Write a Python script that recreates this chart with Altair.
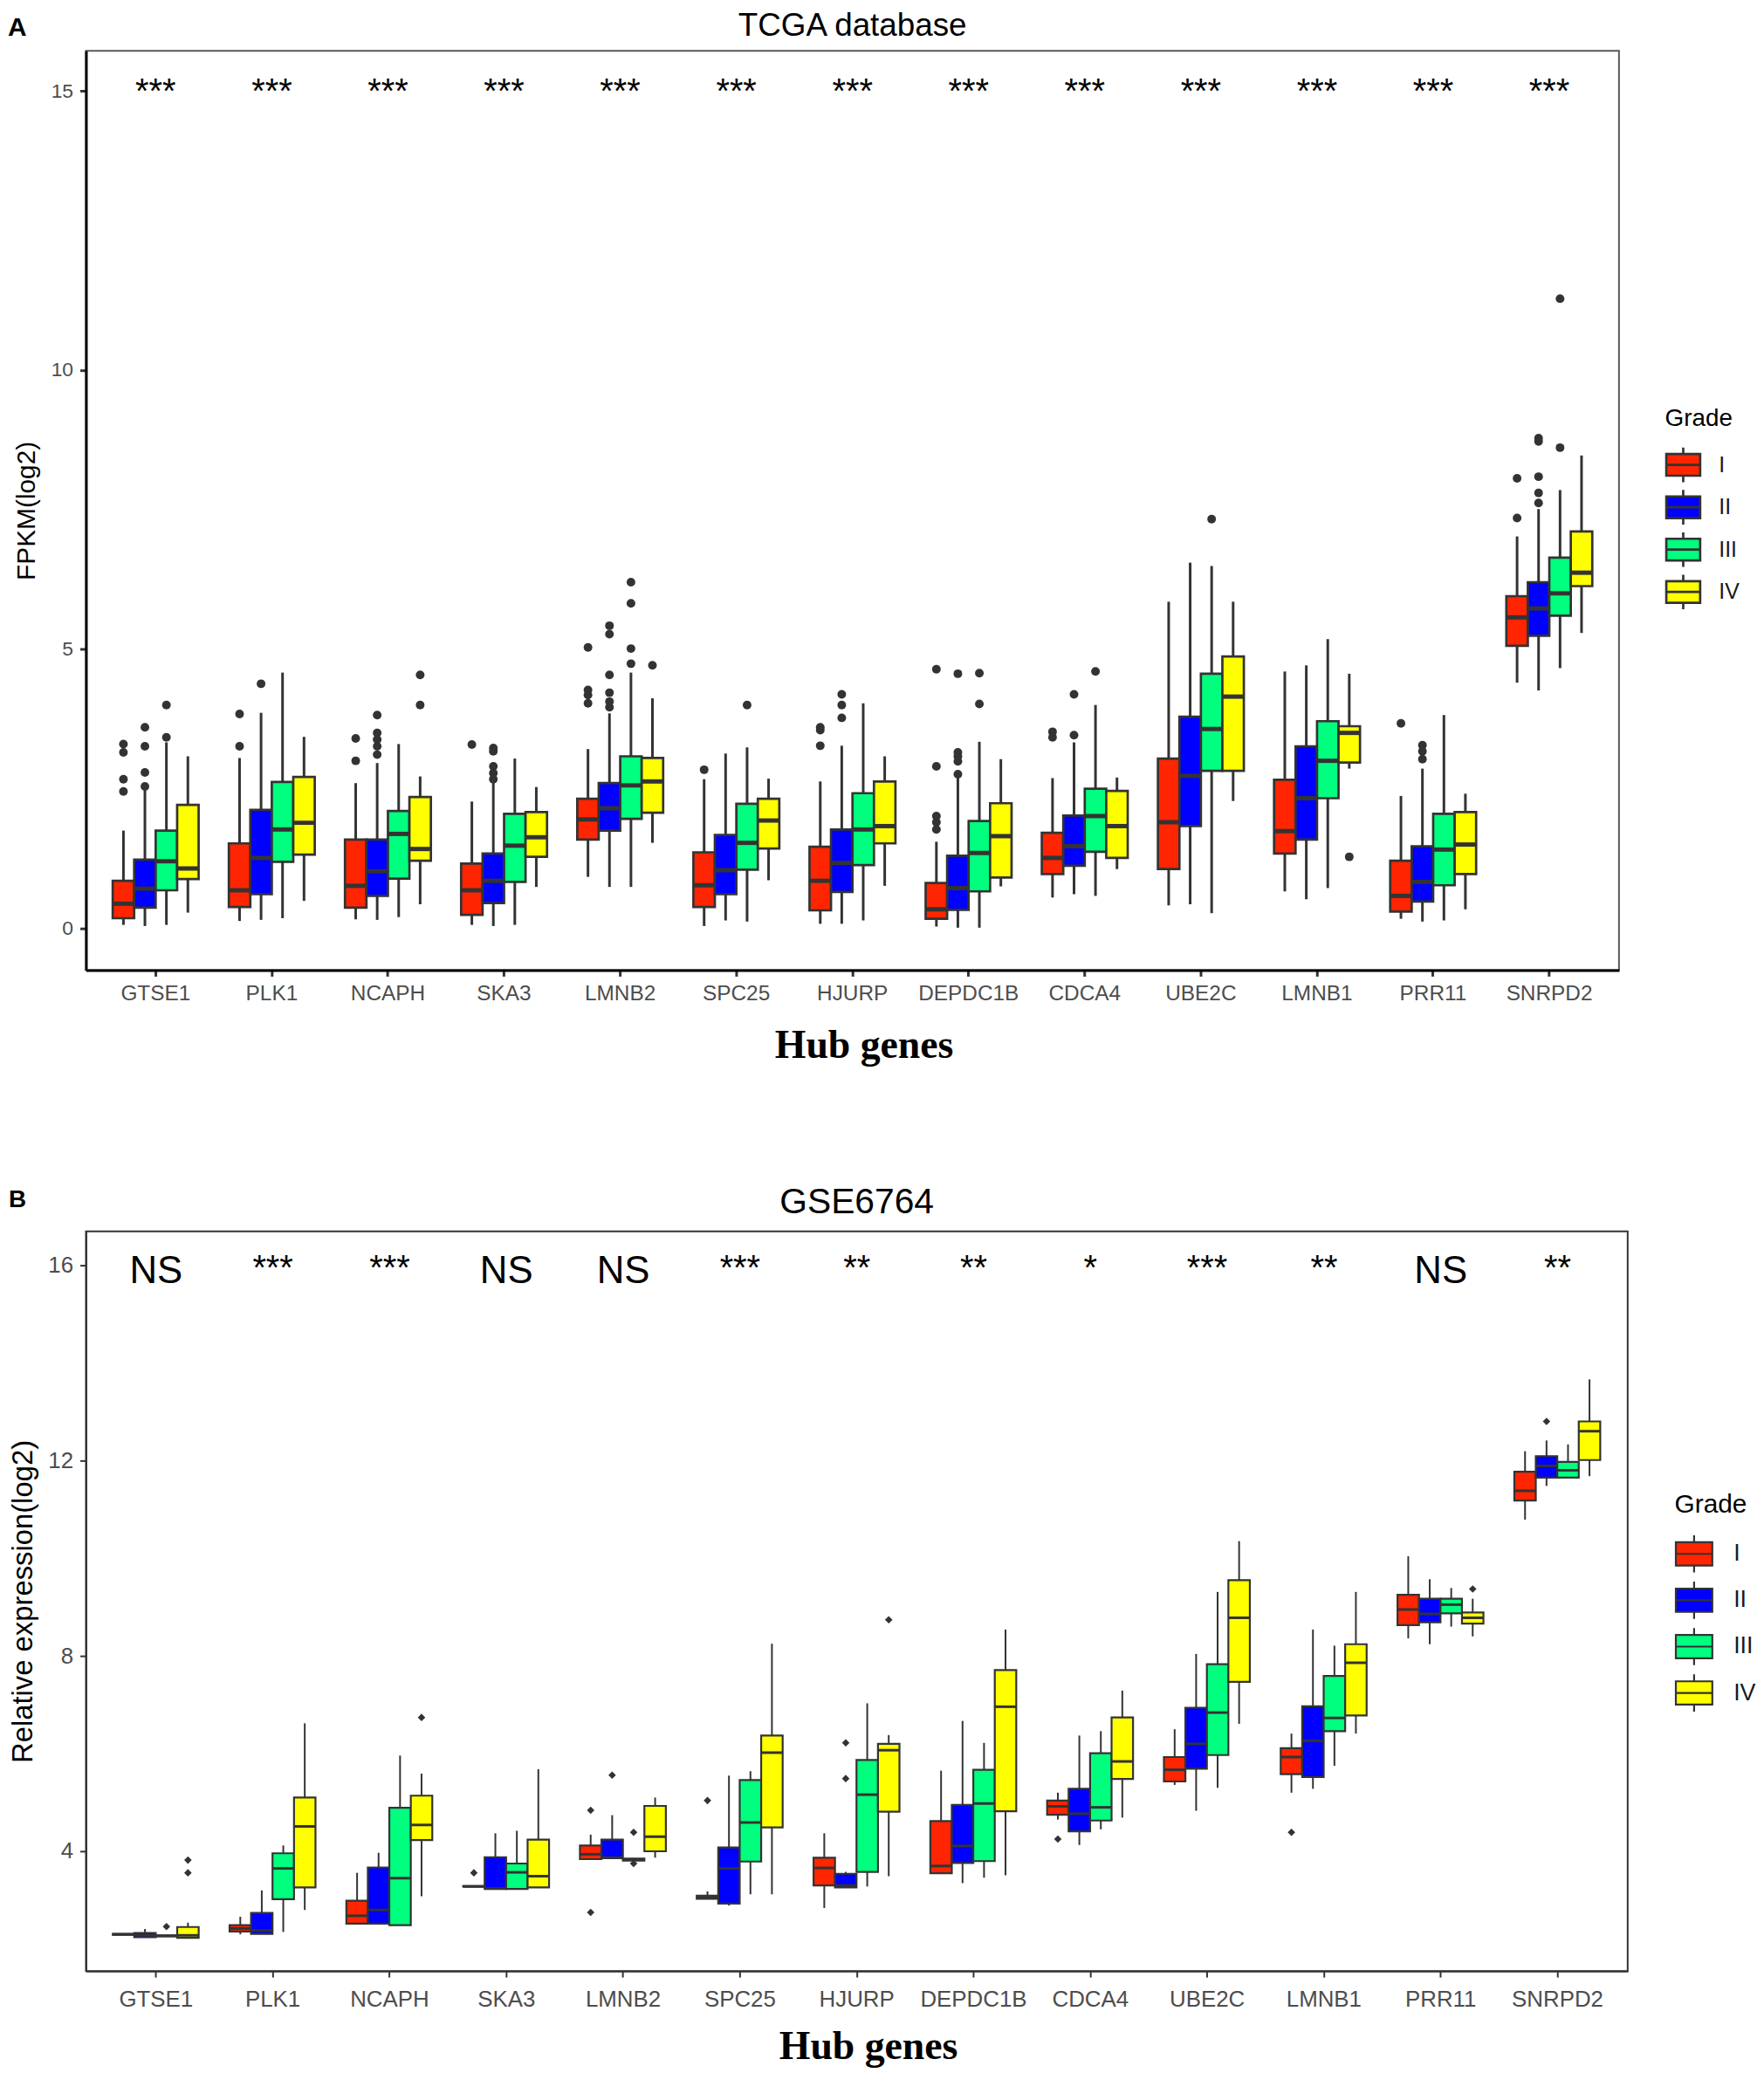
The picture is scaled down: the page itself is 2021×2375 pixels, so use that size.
import altair as alt
import pandas as pd

# ---------------- data ----------------
GENES = ["GTSE1", "PLK1", "NCAPH", "SKA3", "LMNB2", "SPC25", "HJURP",
         "DEPDC1B", "CDCA4", "UBE2C", "LMNB1", "PRR11", "SNRPD2"]
GRADES = ["I", "II", "III", "IV"]
GRADE_COLORS = ["#FF2500", "#0000FF", "#00FF7F", "#FFFF00"]

# Panel A (TCGA database) - per gene, values for grades I, II, III, IV
A_LO = [[0.06, 0.04, 0.06, 0.28], [0.13, 0.15, 0.18, 0.49], [0.16, 0.15, 0.20, 0.43],
        [0.06, 0.04, 0.06, 0.74], [0.92, 0.74, 0.74, 1.53], [0.04, 0.14, 0.12, 0.86],
        [0.08, 0.08, 0.14, 0.76], [0.03, 0.01, 0.01, 0.75], [0.55, 0.61, 0.58, 1.06],
        [0.41, 0.43, 0.27, 2.28], [0.66, 0.52, 0.72, 2.86], [0.17, 0.12, 0.14, 0.34],
        [4.40, 4.26, 4.66, 5.29]]
A_Q1 = [[0.18, 0.37, 0.68, 0.88], [0.38, 0.61, 1.19, 1.32], [0.37, 0.58, 0.89, 1.21],
        [0.24, 0.45, 0.83, 1.28], [1.59, 1.75, 1.96, 2.07], [0.38, 0.61, 1.05, 1.43],
        [0.32, 0.65, 1.13, 1.52], [0.17, 0.33, 0.66, 0.91], [0.97, 1.12, 1.37, 1.26],
        [1.06, 1.83, 2.82, 2.82], [1.34, 1.59, 2.33, 2.97], [0.30, 0.48, 0.77, 0.97],
        [5.06, 5.24, 5.60, 6.13]]
A_MED = [[0.44, 0.71, 1.20, 1.07], [0.68, 1.26, 1.77, 1.89], [0.76, 1.02, 1.69, 1.42],
         [0.68, 0.85, 1.48, 1.63], [1.95, 2.15, 2.56, 2.63], [0.77, 1.04, 1.53, 1.93],
         [0.85, 1.17, 1.77, 1.83], [0.34, 0.72, 1.35, 1.65], [1.26, 1.47, 2.01, 1.83],
         [1.90, 2.73, 3.57, 4.15], [1.74, 2.33, 3.00, 3.50], [0.58, 0.83, 1.41, 1.50],
         [5.57, 5.73, 6.00, 6.37]]
A_Q3 = [[0.85, 1.23, 1.75, 2.21], [1.52, 2.12, 2.62, 2.71], [1.59, 1.59, 2.10, 2.35],
        [1.16, 1.34, 2.05, 2.08], [2.32, 2.60, 3.08, 3.05], [1.36, 1.67, 2.23, 2.32],
        [1.46, 1.77, 2.42, 2.63], [0.81, 1.30, 1.92, 2.24], [1.71, 2.02, 2.50, 2.46],
        [3.04, 3.79, 4.56, 4.87], [2.66, 3.26, 3.71, 3.62], [1.21, 1.47, 2.05, 2.08],
        [5.95, 6.20, 6.64, 7.11]]
A_HI = [[1.75, 2.48, 3.33, 3.08], [3.05, 3.86, 4.58, 3.43], [2.60, 2.96, 3.30, 2.72],
        [2.27, 2.62, 3.04, 2.53], [3.21, 3.85, 4.58, 4.12], [2.67, 3.13, 3.24, 2.68],
        [2.63, 3.27, 4.03, 3.08], [1.55, 2.70, 3.34, 3.03], [2.69, 3.33, 4.00, 2.70],
        [5.85, 6.55, 6.49, 5.85], [4.60, 4.71, 5.18, 4.56], [2.37, 2.86, 3.82, 2.41],
        [7.02, 7.51, 7.85, 8.47]]
A_OUTLIERS = [
    ("GTSE1", "I", [3.30, 3.15, 2.67, 2.45]), ("GTSE1", "II", [3.60, 3.26, 2.79, 2.54]),
    ("GTSE1", "III", [4.00, 3.42]),
    ("PLK1", "I", [3.84, 3.26]), ("PLK1", "II", [4.38]),
    ("NCAPH", "I", [3.40, 3.00]), ("NCAPH", "II", [3.82, 3.50, 3.38, 3.26, 3.11]),
    ("NCAPH", "IV", [4.54, 4.00]),
    ("SKA3", "I", [3.29]), ("SKA3", "II", [3.23, 3.17, 2.90, 2.78, 2.67]),
    ("LMNB2", "I", [5.03, 4.27, 4.18, 4.03]), ("LMNB2", "II", [5.42, 5.27, 4.54, 4.22, 4.06, 3.96]),
    ("LMNB2", "III", [6.20, 5.82, 5.01, 4.74]), ("LMNB2", "IV", [4.71]),
    ("SPC25", "I", [2.84]), ("SPC25", "III", [4.00]),
    ("HJURP", "I", [3.60, 3.55, 3.27]), ("HJURP", "II", [4.19, 4.00, 3.77]),
    ("DEPDC1B", "I", [4.64, 2.90, 2.01, 1.90, 1.77]), ("DEPDC1B", "II", [4.56, 3.15, 3.08, 2.99, 2.76]),
    ("DEPDC1B", "III", [4.57, 4.02]),
    ("CDCA4", "I", [3.52, 3.42]), ("CDCA4", "II", [4.19, 3.46]), ("CDCA4", "III", [4.60]),
    ("UBE2C", "III", [7.33]),
    ("LMNB1", "IV", [1.28]),
    ("PRR11", "I", [3.67]), ("PRR11", "II", [3.28, 3.17, 3.03]),
    ("SNRPD2", "I", [8.06, 7.35]), ("SNRPD2", "II", [8.78, 8.72, 8.09, 7.80, 7.62]),
    ("SNRPD2", "III", [11.28, 8.61]),
]
A_SIG = ["***", "***", "***", "***", "***", "***", "***",
         "***", "***", "***", "***", "***", "***"]

# Panel B (GSE6764)
B_LO = [[2.30, 2.24, 2.27, 2.23], [2.30, 2.31, 2.35, 2.80], [2.52, 2.52, 2.49, 3.08],
        [3.28, 3.23, 3.23, 3.26], [3.84, 3.86, 3.80, 3.87], [3.03, 2.89, 3.12, 3.12],
        [2.84, 3.26, 3.28, 3.49], [3.54, 3.35, 3.46, 3.51], [4.65, 4.13, 4.45, 4.69],
        [5.36, 4.83, 5.30, 6.61], [5.20, 5.28, 5.75, 6.41], [8.36, 8.24, 8.60, 8.40],
        [10.79, 11.48, 11.65, 11.68]]
B_Q1 = [[2.29, 2.24, 2.26, 2.23], [2.36, 2.31, 3.02, 3.26], [2.52, 2.52, 2.49, 4.23],
        [3.28, 3.23, 3.23, 3.26], [3.84, 3.86, 3.81, 4.00], [3.03, 2.93, 3.79, 4.49],
        [3.30, 3.26, 3.58, 4.81], [3.55, 3.76, 3.80, 4.82], [4.75, 4.41, 4.63, 5.48],
        [5.43, 5.69, 5.97, 7.47], [5.58, 5.52, 6.46, 6.78], [8.63, 8.69, 8.87, 8.66],
        [11.18, 11.65, 11.65, 12.01]]
B_MED = [[2.30, 2.28, 2.27, 2.28], [2.42, 2.38, 3.65, 4.51], [2.68, 2.80, 3.45, 4.54],
         [3.28, 3.24, 3.57, 3.49], [3.94, 3.87, 3.83, 4.30], [3.06, 3.65, 4.59, 6.02],
         [3.66, 3.30, 5.16, 6.07], [3.70, 4.11, 4.98, 6.96], [4.92, 4.77, 4.90, 5.84],
         [5.67, 6.20, 6.84, 8.78], [5.93, 6.26, 6.73, 7.86], [8.95, 8.86, 9.05, 8.78],
         [11.38, 11.89, 11.80, 12.60]]
B_Q3 = [[2.31, 2.33, 2.28, 2.45], [2.49, 2.74, 3.96, 5.10], [2.99, 3.67, 4.89, 5.14],
        [3.29, 3.88, 3.75, 4.24], [4.12, 4.24, 3.85, 4.93], [3.09, 4.08, 5.46, 6.37],
        [3.87, 3.54, 5.87, 6.20], [4.62, 4.95, 5.67, 7.71], [5.04, 5.28, 6.01, 6.74],
        [5.93, 6.94, 7.83, 9.55], [6.11, 6.97, 7.59, 8.24], [9.25, 9.17, 9.17, 8.89],
        [11.77, 12.09, 11.97, 12.80]]
B_HI = [[2.31, 2.41, 2.28, 2.54], [2.66, 3.20, 4.12, 6.62], [3.56, 3.97, 5.96, 5.59],
        [3.29, 4.37, 4.42, 5.68], [4.34, 4.74, 3.86, 5.10], [3.18, 5.55, 5.64, 8.25],
        [4.37, 3.58, 7.03, 6.38], [5.65, 6.67, 6.22, 8.54], [5.20, 6.37, 6.46, 7.29],
        [6.50, 8.04, 9.31, 10.35], [6.41, 8.54, 8.21, 9.31], [10.04, 9.57, 9.39, 9.17],
        [12.19, 12.41, 12.33, 13.66]]
B_OUTLIERS = [
    ("GTSE1", "III", [2.46]), ("GTSE1", "IV", [3.82, 3.56]),
    ("NCAPH", "IV", [6.74]),
    ("SKA3", "I", [3.56]),
    ("LMNB2", "I", [4.84, 2.75]), ("LMNB2", "II", [5.56]), ("LMNB2", "III", [4.39, 3.75]),
    ("SPC25", "I", [5.04]),
    ("HJURP", "II", [6.22, 5.49]), ("HJURP", "IV", [8.74]),
    ("CDCA4", "I", [4.25]),
    ("LMNB1", "I", [4.39]),
    ("PRR11", "IV", [9.37]),
    ("SNRPD2", "II", [12.80]),
]
B_SIG = ["NS", "***", "***", "NS", "NS", "***", "**",
         "**", "*", "***", "**", "NS", "**"]

# ---------------- styling ----------------
SANS = "Liberation Sans"
SERIF = "Liberation Serif"
KEY_PATH = "M-1,-0.64H1V0.64H-1Z M-1,0H1 M0,-0.64V-1.02 M0,0.64V1.02"


def box_frame(lo, q1, med, q3, hi):
    rows = []
    for i, g in enumerate(GENES):
        for j, r in enumerate(GRADES):
            rows.append(dict(gene=g, grade=r, lo=lo[i][j], q1=q1[i][j],
                             med=med[i][j], q3=q3[i][j], hi=hi[i][j]))
    return pd.DataFrame(rows)


def outlier_frame(outliers):
    return pd.DataFrame([dict(gene=g, grade=r, v=v) for g, r, vals in outliers for v in vals])


def panel(lo, q1, med, q3, hi, outliers, sig, c):
    box = box_frame(lo, q1, med, q3, hi)
    out = outlier_frame(outliers)
    sigdf = pd.DataFrame(dict(gene=GENES, sig=sig))
    sigdf["fs"] = [c["ns_fs"] if s == "NS" else c["star_fs"] for s in sig]
    sigdf["sy"] = [c["ns_y"] if s == "NS" else c["star_y"] for s in sig]

    W, H = c["W"], c["H"]
    xaxis = alt.Axis(title="Hub genes", labelAngle=0, labelFont=SANS,
                     labelFontSize=c["xlab_fs"], labelColor="#4D4D4D",
                     labelPadding=c["xlab_pad"], tickSize=7, tickWidth=c["tick_w"],
                     tickColor="#333333", domainColor=c["dom_col"], domainWidth=c["dom_w"],
                     titleFont=SERIF, titleFontWeight="bold", titleFontSize=46,
                     titleColor="black", titleBaseline="middle",
                     titleX=W / 2 + 13, titleY=c["xtitle_y"], grid=False)
    yaxis = alt.Axis(title=c["ytitle"], values=c["yticks"], labelFont=SANS,
                     labelFontSize=c["lab_fs"], labelColor="#4D4D4D", labelPadding=8,
                     tickSize=7, tickWidth=c["tick_w"], tickColor="#333333",
                     domainColor=c["dom_col"], domainWidth=c["dom_w"],
                     titleFont=SANS, titleFontWeight="normal", titleFontSize=c["ytitle_fs"],
                     titleColor="black", titleBaseline="middle", titleAngle=270,
                     titleX=c["ytitle_x"], titleY=H / 2, grid=False)
    xs = alt.Scale(domain=GENES, paddingInner=0, paddingOuter=0.1)
    ys = alt.Scale(domain=c["ydom"], nice=False, zero=False)
    X = alt.X("gene:N", scale=xs, axis=xaxis, title="Hub genes")
    XO = alt.XOffset("grade:N", scale=alt.Scale(domain=GRADES, paddingInner=0, paddingOuter=0.703))

    def Y(f):
        return alt.Y(f, type="quantitative", scale=ys, axis=yaxis, title=c["ytitle"])

    legend = alt.Legend(orient="none", legendX=c["leg_x"], legendY=c["leg_y"], title="Grade",
                        titleFont=SANS, titleFontSize=c["leg_tfs"], titleFontWeight="normal",
                        titleColor="black", titlePadding=c["leg_tpad"], labelFont=SANS,
                        labelFontSize=c["leg_lfs"], labelColor="#1A1A1A",
                        labelOffset=c["leg_loff"], symbolType=KEY_PATH,
                        symbolSize=c["leg_sym"] ** 2, symbolStrokeColor="#333333",
                        symbolStrokeWidth=c["box_sw"], symbolOpacity=1,
                        rowPadding=c["leg_rpad"], padding=0, symbolOffset=0)

    whisk_lo = alt.Chart(box).mark_rule(color="#333333", strokeWidth=c["wh_w"]).encode(
        x=X, xOffset=XO, y=Y("lo"), y2="q1")
    whisk_hi = alt.Chart(box).mark_rule(color="#333333", strokeWidth=c["wh_w"]).encode(
        x=X, xOffset=XO, y=Y("q3"), y2="hi")
    boxes = alt.Chart(box).mark_bar(stroke="#333333", strokeWidth=c["box_sw"], opacity=1).encode(
        x=X, xOffset=XO, y=Y("q1"), y2="q3",
        color=alt.Color("grade:N", scale=alt.Scale(domain=GRADES, range=GRADE_COLORS),
                        legend=legend))
    medians = alt.Chart(box).mark_tick(color="#333333", thickness=c["med_w"],
                                       size=c["box_w"], opacity=1).encode(
        x=X, xOffset=XO, y=Y("med"))
    pts = alt.Chart(out).mark_point(filled=True, shape=c["pt_shape"], size=c["pt_size"],
                                    color="#333333", opacity=1).encode(
        x=X, xOffset=XO, y=Y("v"))
    sigs = alt.Chart(sigdf).mark_text(font=SANS, color="black", baseline="alphabetic",
                                      align="center").encode(
        x=X, y=Y("sy"), text="sig:N", size=alt.Size("fs:Q", scale=None, legend=None))
    head = pd.DataFrame(dict(t=[c["title"]]))
    title = alt.Chart(head).mark_text(font=SANS, fontSize=c["title_fs"], color="black",
                                      baseline="alphabetic", align="center").encode(
        x=alt.value(W / 2), y=alt.value(c["title_y"]), text="t:N")
    let = pd.DataFrame(dict(t=[c["letter"]]))
    letter = alt.Chart(let).mark_text(font=SANS, fontSize=c["let_fs"], fontWeight="bold",
                                      color="black", baseline="alphabetic", align="left").encode(
        x=alt.value(c["let_x"]), y=alt.value(c["let_y"]), text="t:N")

    return alt.layer(whisk_lo, whisk_hi, boxes, medians, pts, sigs, title, letter).properties(
        width=W, height=H,
        view=alt.ViewBackground(stroke=c["view_col"], strokeWidth=c["view_w"], fill="white"))


cfgA = dict(W=1766, H=1059, ydom=[-0.75, 15.72], yticks=[0, 5, 10, 15], ytitle="FPKM(log2)",
            ytitle_fs=30, ytitle_x=-68, lab_fs=23, xlab_fs=24.5, xlab_pad=8, xtitle_y=87,
            tick_w=3, dom_col="black", dom_w=3, view_col="#595959", view_w=2,
            box_sw=2.7, wh_w=3, med_w=5, box_w=25, pt_shape="circle", pt_size=100,
            star_fs=40, ns_fs=44, star_y=14.78, ns_y=14.78,
            title="TCGA database", title_fs=37, title_y=-17,
            letter="A", let_fs=30, let_x=-90, let_y=-17,
            leg_x=1819, leg_y=410, leg_tfs=28, leg_tpad=18, leg_lfs=25, leg_loff=20,
            leg_sym=39, leg_rpad=-3.2)
cfgB = dict(W=1776, H=852, ydom=[1.55, 16.69], yticks=[4, 8, 12, 16],
            ytitle="Relative expression(log2)", ytitle_fs=33, ytitle_x=-72, lab_fs=26,
            xlab_fs=26, xlab_pad=13, xtitle_y=87, tick_w=2, dom_col="#333333", dom_w=2,
            view_col="#333333", view_w=2,
            box_sw=2.2, wh_w=2, med_w=3, box_w=25, pt_shape="diamond", pt_size=75,
            star_fs=40, ns_fs=44, star_y=15.70, ns_y=15.64,
            title="GSE6764", title_fs=41, title_y=-21,
            letter="B", let_fs=28, let_x=-89, let_y=-28,
            leg_x=1830, leg_y=300, leg_tfs=30, leg_tpad=19, leg_lfs=27, leg_loff=23,
            leg_sym=42, leg_rpad=0.4)

chartA = panel(A_LO, A_Q1, A_MED, A_Q3, A_HI, A_OUTLIERS, A_SIG, cfgA)
chartB = panel(B_LO, B_Q1, B_MED, B_Q3, B_HI, B_OUTLIERS, B_SIG, cfgB)

chart = alt.vconcat(chartA, chartB, spacing=135).resolve_scale(
    x="independent", y="independent", color="independent"
).resolve_legend(color="independent").properties(
    padding={"left": 0, "top": -4, "right": 0, "bottom": 0}, background="white"
).configure_view(stroke=None)

chart.save("out.html", embed_options={"renderer": "svg", "actions": False})
